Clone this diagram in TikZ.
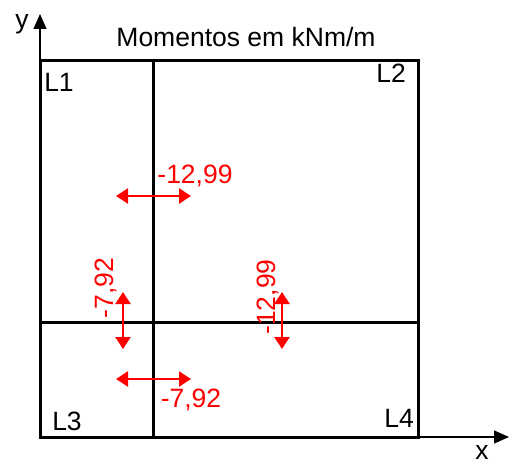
\documentclass[tikz,border=0pt]{standalone}
\usepackage{fontspec}
\setmainfont{Liberation Sans}
\usetikzlibrary{arrows.meta}
\begin{document}
\begin{tikzpicture}[x=1pt,y=-1pt,
  txt/.style={font=\fontsize{26.5}{30}\selectfont, inner sep=0pt, anchor=base},
  redtxt/.style={txt, text=red},
  wall/.style={line width=3pt, black},
  axis/.style={line width=1.5pt, black, -{Triangle[length=15pt,width=13pt]}},
  moment/.style={line width=2.4pt, red, {Triangle[length=12pt,width=15pt]}-{Triangle[length=12pt,width=15pt]}}]
\useasboundingbox (0,0) rectangle (511,460);
% axes
\coordinate (O) at (40,437);
\coordinate (Ytip) at (40,14);
\coordinate (Xtip) at (509,437);
\draw[axis] (O) -- (Ytip);
\draw[axis] (O) -- (Xtip);
% slab outline
\draw[wall] (40,61) rectangle (418,437);
\draw[wall] (153,61) -- (153,437);
\draw[wall] (40,322) -- (418,322);
% labels
\node[txt] (title) at (246,47) {Momentos em kNm/m};
\node[txt] (ylab) at (22,29) {y};
\node[txt] (xlab) at (482,459) {x};
\node[txt] (L1) at (59,91) {L1};
\node[txt] (L2) at (391,82) {L2};
\node[txt] (L3) at (67,430) {L3};
\node[txt] (L4) at (399,427) {L4};
% moments
\coordinate (a1) at (116,196); \coordinate (a2) at (191,196);
\draw[moment] (a1) -- (a2);
\node[redtxt] (m1) at (195,183) {-12,99};
\coordinate (b1) at (123,292); \coordinate (b2) at (123,349);
\draw[moment] (b1) -- (b2);
\node[redtxt, rotate=90] (m2) at (113,288) {-7,92};
\coordinate (c1) at (282,292); \coordinate (c2) at (282,349);
\draw[moment] (c1) -- (c2);
\node[redtxt, rotate=90] (m3) at (275,297) {-12,99};
\coordinate (d1) at (116,379); \coordinate (d2) at (191,379);
\draw[moment] (d1) -- (d2);
\node[redtxt] (m4) at (191,407) {-7,92};
\end{tikzpicture}
\end{document}
